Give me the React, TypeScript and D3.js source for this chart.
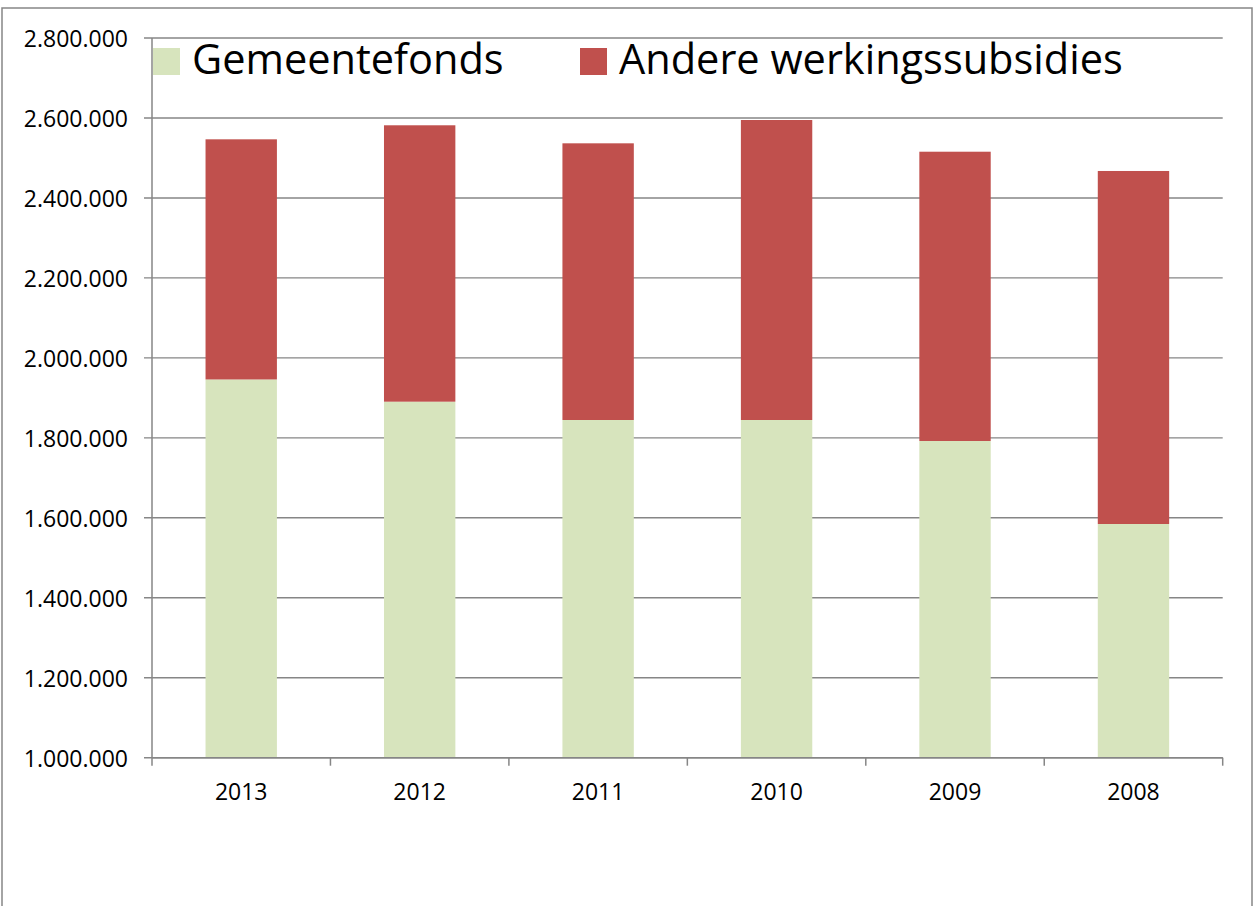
import React from "react";
import * as d3 from "d3";

const years = ["2013", "2012", "2011", "2010", "2009", "2008"];
const gemeentefonds = [1946000, 1890400, 1844600, 1844600, 1792100, 1584500];
const andere = [600600, 691300, 692000, 750300, 723500, 882900];
const yTicks = [1000000, 1200000, 1400000, 1600000, 1800000, 2000000, 2200000, 2400000, 2600000, 2800000];
const seriesNames = ["Gemeentefonds", "Andere werkingssubsidies"];
const seriesColors = ["#D7E4BD", "#C0504D"];

const W = 1256;
const H = 906;
const left = 152;
const right = 1222.7;
const top = 38;
const bottom = 757.7;
const axisColor = "#868686";
const font = "'Open Sans', 'DejaVu Sans', sans-serif";
const yMin = 1000000;
const yMax = 2800000;

const fmt = (v: number) =>
  Math.round(v)
    .toString()
    .replace(/\B(?=(\d{3})+(?!\d))/g, ".");

export default function App() {
  const x = d3.scaleBand<string>().domain(years).range([left, right]).paddingInner(0.6).paddingOuter(0.3);
  const xb = d3.scaleBand<string>().domain(years).range([left, right]);
  const y = d3.scaleLinear().domain([yMin, yMax]).range([bottom, top]);

  const rows = years.map((yr, i) => ({ year: yr, g: gemeentefonds[i], a: andere[i] }));
  const stack = d3.stack<any>().keys(["g", "a"])(rows);

  return (
    <svg width={W} height={H} style={{ position: "absolute", left: 0, top: 0 }} fontFamily={font}>
      <rect x={0} y={0} width={W} height={H} fill="#fff" />
      <rect x={2} y={8} width={1250} height={940} fill="#fff" stroke={axisColor} strokeWidth={1.5} />
      {/* gridlines */}
      {yTicks.map((t) => (
        <line key={"g" + t} x1={left - 8} x2={right} y1={y(t)} y2={y(t)} stroke={axisColor} strokeWidth={1.4} />
      ))}
      {/* bars */}
      {stack.map((layer, li) => (
        <g key={li} fill={seriesColors[li]}>
          {layer.map((d: any, i: number) => {
            const lo = Math.max(d[0], yMin);
            return (
              <rect
                key={i}
                x={x(years[i])!}
                width={x.bandwidth()}
                y={y(d[1])}
                height={y(lo) - y(d[1])}
              />
            );
          })}
        </g>
      ))}
      {/* y axis */}
      <line x1={left} x2={left} y1={top} y2={bottom + 8} stroke={axisColor} strokeWidth={1.5} />
      {yTicks.map((t) => (
        <text
          key={"t" + t}
          x={128}
          y={y(t)}
          textAnchor="end"
          dominantBaseline="central"
          fontSize={23}
          fill="#000"
        >
          {fmt(t)}
        </text>
      ))}
      {/* x axis */}
      <line x1={left} x2={right} y1={bottom} y2={bottom} stroke={axisColor} strokeWidth={1.5} />
      {years.map((yr) => (
        <line
          key={"xt" + yr}
          x1={xb(yr)! + xb.bandwidth()}
          x2={xb(yr)! + xb.bandwidth()}
          y1={bottom}
          y2={bottom + 8}
          stroke={axisColor}
          strokeWidth={1.5}
        />
      ))}
      {years.map((yr) => (
        <text
          key={"xl" + yr}
          x={xb(yr)! + xb.bandwidth() / 2}
          y={800}
          textAnchor="middle"
          fontSize={23}
          fill="#000"
        >
          {yr}
        </text>
      ))}
      {/* legend */}
      <rect x={153} y={48} width={27} height={27} fill={seriesColors[0]} />
      <text x={192} y={74} fontSize={41.5} fill="#000">
        {seriesNames[0]}
      </text>
      <rect x={580} y={48} width={27} height={27} fill={seriesColors[1]} />
      <text x={619} y={74} fontSize={41.5} fill="#000">
        {seriesNames[1]}
      </text>
    </svg>
  );
}
